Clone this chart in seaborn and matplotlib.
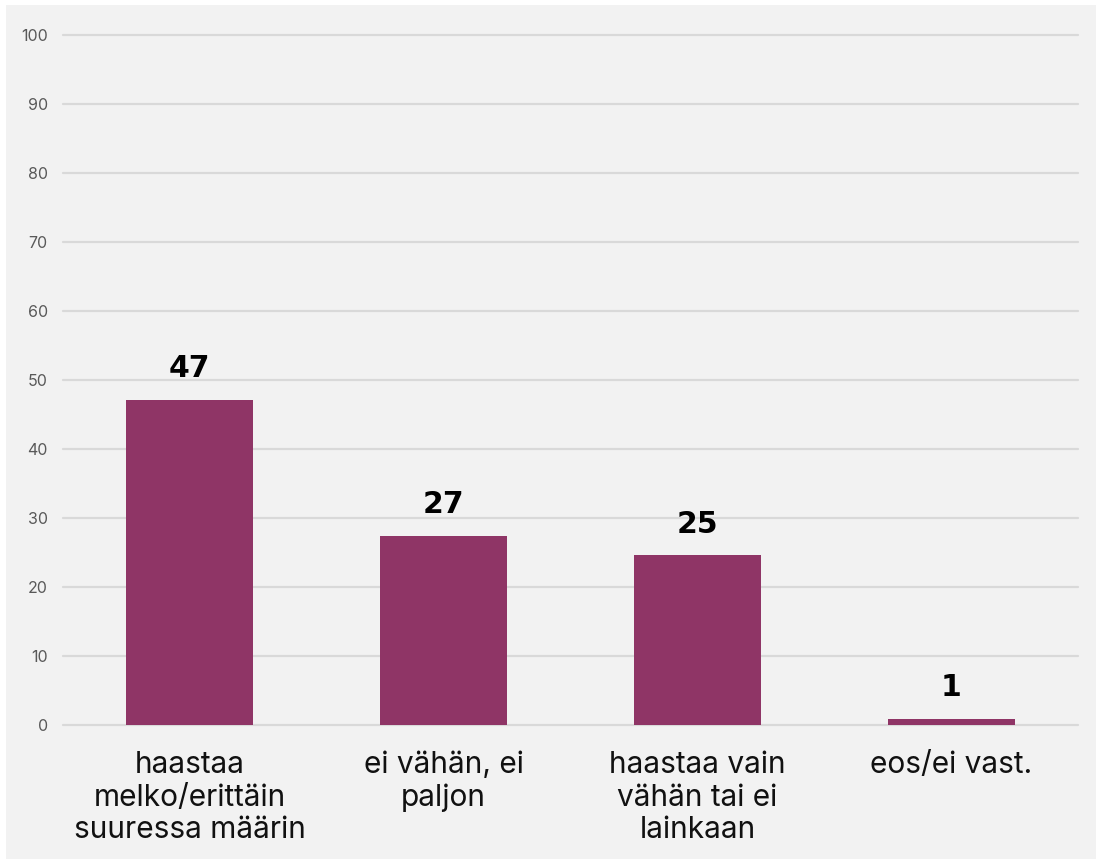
import matplotlib
matplotlib.use("Agg")
import matplotlib.pyplot as plt
import seaborn as sns
import pandas as pd
from matplotlib.patches import Rectangle

categories = ["haastaa\nmelko/erittäin\nsuuressa määrin",
              "ei vähän, ei\npaljon",
              "haastaa vain\nvähän tai ei\nlainkaan",
              "eos/ei vast."]
values = [47.1, 27.4, 24.6, 0.9]
labels = ["47", "27", "25", "1"]
yticks = [0, 10, 20, 30, 40, 50, 60, 70, 80, 90, 100]

sns.set_theme(style="white")
plt.rcParams['font.family'] = ['Inter', 'DejaVu Sans']

W, H = 1096, 859
fig = plt.figure(figsize=(W / 100, H / 100), dpi=100, facecolor="white")
fig.patches.append(Rectangle((6 / W, 0), 1 - 6 / W, 1 - 5 / H, transform=fig.transFigure,
                             facecolor="#f2f2f2", edgecolor="none", zorder=-10))
ax = fig.add_axes([63 / W, 1 - 725 / H, (1078 - 63) / W, (725 - 35) / H])
ax.set_facecolor("none")

df = pd.DataFrame({"cat": categories, "val": values})
sns.barplot(data=df, x="cat", y="val", color="#8f3566", saturation=1, width=0.5, ax=ax,
            zorder=3, edgecolor="none", linewidth=0)

ax.set_ylim(0, 100)
ax.set_xlim(-0.5, 3.5)
ax.set_yticks(yticks)
ax.yaxis.grid(True, color="#d9d9d9", linewidth=1.6, zorder=0)
for gl in ax.get_ygridlines():
    gl.set_clip_on(False)
ax.set_axisbelow(True)
for s in ax.spines.values():
    s.set_visible(False)
ax.tick_params(axis="y", length=0, pad=11, labelsize=11.5, labelcolor="#595959")
ax.tick_params(axis="x", length=0, pad=19, labelsize=21.5, labelcolor="#111111")
for t in ax.get_xticklabels():
    t.set_linespacing(1.2)
ax.set_xlabel("")
ax.set_ylabel("")

for i, (v, lab) in enumerate(zip(values, labels)):
    ax.annotate(lab, (i, v), xytext=(0, 12), textcoords="offset points",
                ha="center", va="bottom", fontsize=21.5, fontweight="bold", color="black",
                family=["DejaVu Sans"])

fig.savefig("out.png", dpi=100, facecolor="white")
